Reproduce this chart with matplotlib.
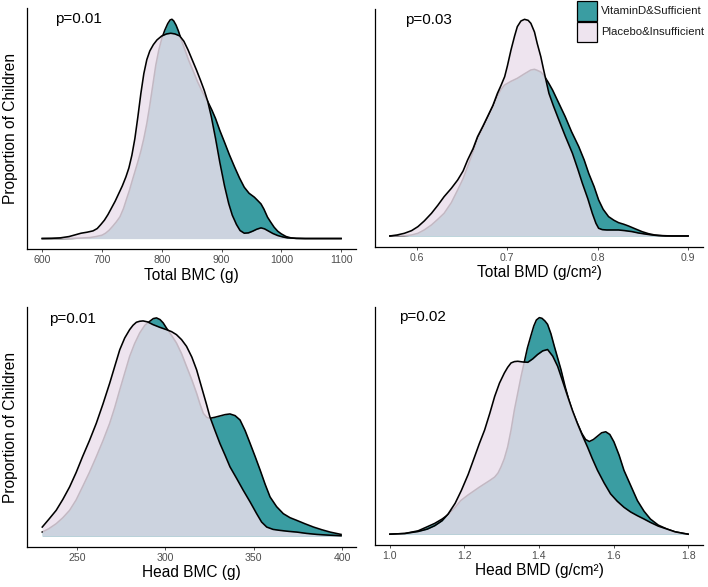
import matplotlib
matplotlib.use("Agg")
import matplotlib.pyplot as plt
from matplotlib.patches import Rectangle

plt.rcParams['font.family'] = ['Liberation Sans', 'DejaVu Sans']

# ---------------- data (relative density heights) ----------------
# Panel 1: Total BMC (g)
bmc_pl_x = [600, 615, 630, 645, 655, 665, 675, 685, 692, 698, 704, 710, 716, 722, 728, 734, 740, 745,
            750, 755, 760, 765, 770, 775, 780, 786, 792, 800, 808, 815, 822, 830, 837, 844, 851, 858,
            865, 871, 877, 883, 890, 897, 905, 912, 918, 925, 931, 938, 945, 952, 959, 966, 972, 978,
            986, 994, 1002, 1010, 1025, 1040, 1100]
bmc_pl_y = [0, 0.5, 2, 6, 11, 16, 19, 23, 30, 42, 55, 72, 92, 112, 135, 158, 185, 212,
            250, 300, 365, 435, 495, 537, 563, 582, 596, 608, 614, 616, 614, 608, 592, 566, 536, 506,
            474, 445, 411, 365, 300, 230, 158, 105, 70, 42, 24, 16, 17, 22, 28, 32, 29, 23,
            15, 9, 5, 2, 0.5, 0, 0]
bmc_vd_x = [600, 630, 650, 665, 680, 690, 700, 706, 712, 718, 724, 730, 736, 741, 746, 750, 755, 760,
            765, 770, 775, 780, 785, 790, 795, 800, 805, 810, 814, 817, 820, 824, 828, 832, 838, 845,
            852, 860, 868, 877, 884, 890, 897, 905, 913, 922, 930, 938, 946, 955, 960, 966, 971, 977,
            982, 988, 994, 1000, 1008, 1016, 1025, 1040, 1100]
bmc_vd_y = [0, 0, 0.5, 1.5, 3, 6, 10, 16, 25, 37, 50, 65, 90, 118, 145, 170, 200, 230,
            262, 300, 345, 400, 460, 520, 565, 600, 625, 645, 656, 658, 653, 640, 622, 600, 570, 535,
            505, 470, 440, 411, 385, 360, 325, 289, 252, 214, 182, 154, 136, 124, 115, 104, 88, 64,
            50, 34, 22, 14, 6, 2, 0.5, 0, 0]

# Panel 2: Total BMD (g/cm2)
bmd_pl_x = [0.57, 0.578, 0.586, 0.594, 0.601, 0.608, 0.616, 0.623, 0.630, 0.638, 0.645, 0.651, 0.656,
            0.662, 0.667, 0.673, 0.678, 0.684, 0.689, 0.693, 0.697, 0.700, 0.704, 0.708, 0.711, 0.715,
            0.719, 0.723, 0.726, 0.730, 0.733, 0.737, 0.740, 0.746, 0.751, 0.757, 0.764, 0.772, 0.778,
            0.783, 0.789, 0.794, 0.798, 0.801, 0.805, 0.810, 0.816, 0.823, 0.830, 0.838, 0.845, 0.852,
            0.860, 0.867, 0.875, 0.90]
bmd_pl_y = [0, 3, 8, 16, 28, 45, 68, 92, 118, 143, 168, 195, 228,
            262, 298, 330, 358, 392, 428, 452, 478, 510, 558, 600, 628, 645,
            650, 647, 638, 612, 578, 538, 500, 428, 390, 348, 300, 248, 200,
            158, 112, 68, 38, 23, 19, 18, 18, 18, 16, 13, 9, 6,
            3, 1, 0, 0]
bmd_vd_x = [0.57, 0.586, 0.594, 0.601, 0.608, 0.616, 0.623, 0.630, 0.638, 0.645, 0.651, 0.656, 0.662,
            0.667, 0.673, 0.678, 0.684, 0.689, 0.693, 0.697, 0.704, 0.711, 0.718, 0.726, 0.730, 0.733,
            0.737, 0.740, 0.745, 0.750, 0.757, 0.764, 0.771, 0.779, 0.785, 0.790, 0.796, 0.801, 0.806,
            0.812, 0.818, 0.823, 0.829, 0.834, 0.841, 0.849, 0.856, 0.863, 0.872, 0.882, 0.90]
bmd_vd_y = [0, 0.5, 3, 8, 18, 33, 50, 68, 100, 138, 172, 208, 252,
            293, 325, 354, 388, 420, 440, 453, 464, 473, 485, 498, 500, 497,
            492, 483, 462, 438, 398, 358, 313, 268, 228, 188, 148, 108, 80,
            58, 47, 40, 35, 30, 22, 13, 7, 3, 1, 0, 0]

# Panel 3: Head BMC (g)
hbmc_pl_x = [230.3, 234, 238.2, 242, 245.8, 249.5, 253.1, 257, 260.9, 264.7, 268.5, 271.4, 274.2, 277,
             279.8, 281.7, 283.6, 285.5, 287.4, 290, 293, 296.8, 300.6, 303.5, 306.3, 309.2, 312, 315,
             317.7, 319.6, 321.5, 323.4, 325.2, 328, 330.9, 333.8, 336.6, 340.4, 344.1, 348, 351.7,
             354.5, 357.4, 361, 365, 370, 374.4, 380, 385.8, 392, 399.5]
hbmc_pl_y = [27, 50, 77, 110, 147, 190, 237, 285, 337, 395, 457, 508, 557, 592,
             617, 630, 639, 642, 643, 640, 632, 624, 617, 611, 602, 587, 567, 535,
             497, 462, 427, 392, 357, 317, 277, 242, 207, 172, 137, 102, 67,
             42, 27, 20, 17, 14, 12, 8, 5, 3, 1]
hbmc_vd_x = [230.3, 234, 238.2, 242, 245.8, 249.5, 253.1, 257, 260.9, 264.7, 268.5, 271.4, 274.2, 277,
             279.8, 282.6, 285.5, 288.4, 291.2, 293.2, 295, 297, 298.8, 300.6, 303.5, 306.3, 309.2, 312,
             315, 317.7, 319.6, 321.5, 323.4, 325.2, 328, 330.9, 333.8, 336.6, 339.5, 342.3, 345.2,
             348, 350.9, 353.7, 356.5, 359.3, 363, 366.8, 370.6, 374.4, 379, 383.9, 388.6, 393.3, 399.5]
hbmc_vd_y = [12, 22, 37, 55, 77, 108, 147, 190, 237, 285, 337, 385, 437, 487,
             537, 575, 607, 630, 642, 650, 652, 647, 637, 622, 600, 577, 545, 507,
             467, 427, 395, 367, 355, 352, 355, 359, 363, 365, 360, 347, 315,
             277, 237, 197, 155, 117, 88, 67, 55, 47, 37, 27, 19, 12, 5]

# Panel 4: Head BMD (g/cm2)
hbmd_pl_x = [1.0, 1.04, 1.0757, 1.10, 1.12, 1.14, 1.156, 1.175, 1.1916, 1.21, 1.227, 1.24, 1.254, 1.268,
             1.281, 1.294, 1.307, 1.316, 1.325, 1.334, 1.343, 1.356, 1.37, 1.383, 1.396, 1.41, 1.423,
             1.437, 1.45, 1.463, 1.477, 1.49, 1.503, 1.516, 1.53, 1.543, 1.557, 1.575, 1.592, 1.61,
             1.628, 1.646, 1.664, 1.682, 1.699, 1.72, 1.744, 1.765, 1.789, 1.80]
hbmd_pl_y = [0, 2, 8, 15, 25, 40, 60, 92, 130, 178, 230, 270, 310, 360,
             410, 450, 480, 497, 510, 514, 515, 513, 512, 522, 535, 546, 550,
             530, 500, 457, 410, 368, 330, 295, 260, 225, 190, 152, 120, 98,
             80, 66, 55, 45, 35, 24, 15, 7, 2, 0]
hbmd_vd_x = [1.0, 1.04, 1.0757, 1.10, 1.12, 1.14, 1.156, 1.175, 1.19, 1.21, 1.227, 1.24, 1.254, 1.268,
             1.281, 1.29, 1.298, 1.307, 1.316, 1.325, 1.334, 1.343, 1.352, 1.36, 1.369, 1.378, 1.386,
             1.393, 1.401, 1.408, 1.416, 1.423, 1.432, 1.441, 1.45, 1.459, 1.47, 1.48, 1.49, 1.503,
             1.515, 1.525, 1.535, 1.546, 1.557, 1.568, 1.579, 1.59, 1.601, 1.615, 1.628, 1.646, 1.664,
             1.682, 1.699, 1.72, 1.744, 1.765, 1.789, 1.80]
hbmd_vd_y = [0, 2, 10, 22, 32, 45, 58, 80, 100, 117, 130, 140, 150, 160,
             170, 182, 200, 225, 260, 310, 370, 420, 470, 510, 555, 590, 620,
             638, 645, 643, 635, 625, 597, 560, 525, 490, 440, 400, 365, 330,
             300, 282, 276, 282, 292, 302, 305, 297, 275, 235, 190, 145, 100,
             68, 45, 27, 15, 7, 2, 0]

x_labels = ["Total BMC (g)", "Total BMD (g/cm\u00b2)", "Head BMC (g)", "Head BMD (g/cm\u00b2)"]
p_labels = ["p=0.01", "p=0.03", "p=0.01", "p=0.02"]
x_ticks = [[600, 700, 800, 900, 1000, 1100],
           [0.6, 0.7, 0.8, 0.9],
           [250, 300, 350, 400],
           [1.0, 1.2, 1.4, 1.6, 1.8]]
x_ticklabels = [["600", "700", "800", "900", "1000", "1100"],
                ["0.6", "0.7", "0.8", "0.9"],
                ["250", "300", "350", "400"],
                ["1.0", "1.2", "1.4", "1.6", "1.8"]]
groups = ["VitaminD&Sufficient", "Placebo&Insufficient"]

# ---------------- style ----------------
TEAL = "#3A9DA2"
LAV = "#EBDFEC"
LAV_ALPHA = 0.83
LAV_KEY = "#EEE4EF"
LW = 1.15

W, H = 708, 587
fig = plt.figure(figsize=(W / 100, H / 100), dpi=100)

def fr(left, right, top, bottom):
    return [left / W, 1 - bottom / H, (right - left) / W, (bottom - top) / H]

rects = [fr(27.3, 356, 8.3, 249.5), fr(375, 703, 8.5, 246.8),
         fr(27.3, 356, 307.0, 547.0), fr(375, 703, 306.8, 545.0)]
ptext_pos = [(0.084, 0.939), (0.091, 0.937), (0.066, 0.933), (0.073, 0.941)]

panels = [(bmc_vd_x, bmc_vd_y, bmc_pl_x, bmc_pl_y),
          (bmd_vd_x, bmd_vd_y, bmd_pl_x, bmd_pl_y),
          (hbmc_vd_x, hbmc_vd_y, hbmc_pl_x, hbmc_pl_y),
          (hbmd_vd_x, hbmd_vd_y, hbmd_pl_x, hbmd_pl_y)]

for i, (vx, vy, px, py) in enumerate(panels):
    ax = fig.add_axes(rects[i])
    ax.fill_between(vx, 0, vy, color=TEAL, lw=0, zorder=1)
    ax.plot(vx, vy, color="black", lw=LW, zorder=2, solid_joinstyle='round')
    ax.fill_between(px, 0, py, color=LAV, alpha=LAV_ALPHA, lw=0, zorder=3)
    ax.plot(px, py, color="black", lw=LW, zorder=4, solid_joinstyle='round')

    xmin = min(min(vx), min(px)); xmax = max(max(vx), max(px))
    ymax = max(max(vy), max(py))
    dx = xmax - xmin
    ax.set_xlim(xmin - 0.05 * dx, xmax + 0.05 * dx)
    ax.set_ylim(-0.05 * ymax, 1.05 * ymax)

    ax.set_xticks(x_ticks[i])
    ax.set_xticklabels(x_ticklabels[i])
    ax.set_yticks([])
    ax.tick_params(axis='x', length=2.5, width=0.6, color="#333333", pad=1.8,
                   labelsize=7.6, labelcolor="#4D4D4D")
    for s in ["top", "right"]:
        ax.spines[s].set_visible(False)
    for s in ["left", "bottom"]:
        ax.spines[s].set_linewidth(0.9)
        ax.spines[s].set_color("black")
    ax.set_xlabel(x_labels[i], fontsize=11.2, labelpad=1.5, color="black")
    if i % 2 == 0:
        ax.set_ylabel("Proportion of Children", fontsize=11.2, labelpad=7, color="black")
    ax.text(ptext_pos[i][0], ptext_pos[i][1], p_labels[i], transform=ax.transAxes,
            fontsize=11, va="baseline", ha="left", color="black")

# legend (keys drawn in figure coordinates)
key_colors = [TEAL, LAV_KEY]
key_top = [0.8, 21.9]
for k in range(2):
    x0, y0 = 577.0, key_top[k]
    fig.add_artist(Rectangle((x0 / W, 1 - (y0 + 19.8) / H), 19.5 / W, 19.8 / H,
                             transform=fig.transFigure, facecolor=key_colors[k],
                             edgecolor="black", lw=0.9))
    fig.text(601 / W, 1 - (y0 + 10.2) / H, groups[k], fontsize=8.2, va="center", ha="left",
             color="#1A1A1A")

fig.savefig("out.png", dpi=100)
